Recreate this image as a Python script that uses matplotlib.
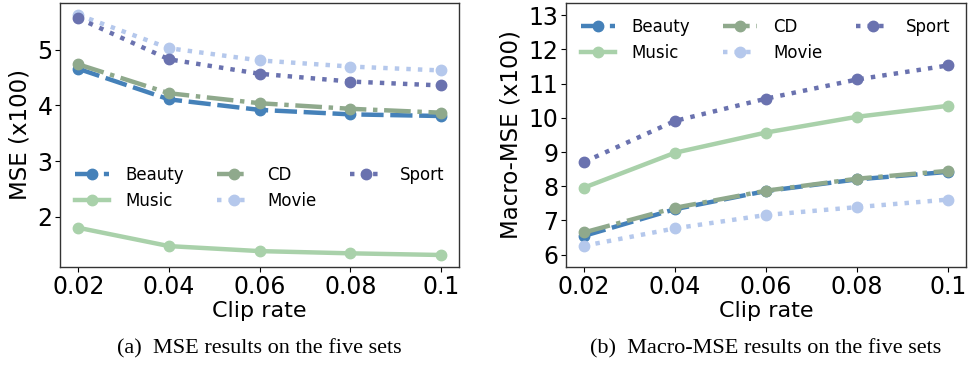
import matplotlib
matplotlib.use("Agg")
import matplotlib.pyplot as plt

# clip rates on the x axis
clip_rate = [0.02, 0.04, 0.06, 0.08, 0.1]

# (a) MSE (x100)
mse_beauty = [4.66, 4.11, 3.92, 3.84, 3.81]
mse_music = [1.80, 1.47, 1.38, 1.34, 1.31]
mse_cd = [4.74, 4.22, 4.04, 3.94, 3.87]
mse_movie = [5.63, 5.03, 4.81, 4.70, 4.63]
mse_sport = [5.57, 4.83, 4.57, 4.43, 4.36]

# (b) Macro-MSE (x100)
mmse_beauty = [6.55, 7.33, 7.86, 8.20, 8.42]
mmse_music = [7.96, 8.98, 9.57, 10.03, 10.35]
mmse_cd = [6.65, 7.37, 7.87, 8.22, 8.45]
mmse_movie = [6.26, 6.77, 7.16, 7.39, 7.61]
mmse_sport = [8.71, 9.91, 10.56, 11.12, 11.53]

names = ["Beauty", "Music", "CD", "Movie", "Sport"]
colors = ["#4581b9", "#a9d1aa", "#8fa98c", "#b5c8ec", "#6a72af"]
styles = [(0, (5, 1.5)), "-", (0, (6, 1.5, 1, 1.5)), (0, (1, 1.6)), (0, (1, 1.6))]

panels = [
    ([mse_beauty, mse_music, mse_cd, mse_movie, mse_sport], "MSE (x100)",
     "(a)  MSE results on the five sets"),
    ([mmse_beauty, mmse_music, mmse_cd, mmse_movie, mmse_sport], "Macro-MSE (x100)",
     "(b)  Macro-MSE results on the five sets"),
]

fig = plt.figure(figsize=(9.69, 3.79), dpi=100)
ax1 = fig.add_axes([0.062, 0.2955, 0.412, 0.697])
ax2 = fig.add_axes([0.584, 0.2955, 0.413, 0.697])

for ax, (series, ylabel, caption) in zip([ax1, ax2], panels):
    for vals, name, c, ls in zip(series, names, colors, styles):
        ax.plot(clip_rate, vals, color=c, linestyle=ls, linewidth=3.2,
                marker="o", markersize=7.5, label=name)
    ax.set_xticks(clip_rate)
    ax.set_xticklabels(["0.02", "0.04", "0.06", "0.08", "0.1"])
    ax.tick_params(labelsize=17, length=3.5, width=0.8, colors="black", pad=2)
    ax.set_xlabel("Clip rate", fontsize=16, labelpad=2)
    ax.set_ylabel(ylabel, fontsize=16.5, labelpad=4)
    for s in ax.spines.values():
        s.set_color("#333333")
        s.set_linewidth(1.0)
    x_mid = (ax.get_position().x0 + ax.get_position().x1) / 2
    fig.text(x_mid, 0.079, caption, ha="center", va="center",
             fontsize=16, family="Liberation Serif")

ax1.set_yticks([2, 3, 4, 5])
ax2.set_ylim(5.64, 13.36)
ax2.set_yticks(range(6, 14))

ax1.legend(ncol=3, loc="center", bbox_to_anchor=(0.5, 0.3), frameon=False,
           fontsize=12, handlelength=2.0, columnspacing=2.0,
           labelspacing=0.5, handletextpad=1.0)
ax2.legend(ncol=3, loc="upper center", bbox_to_anchor=(0.5, 1.0), frameon=False,
           fontsize=12, handlelength=2.0, columnspacing=2.0,
           labelspacing=0.5, handletextpad=1.0)

fig.savefig("out.png", dpi=100)
